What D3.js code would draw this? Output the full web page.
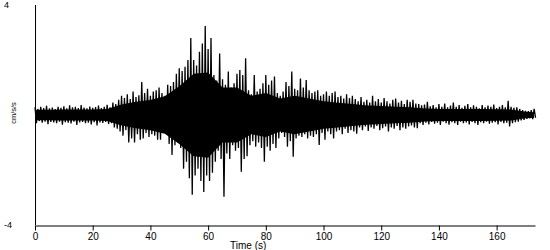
<!DOCTYPE html>
<html>
<head>
<meta charset="utf-8">
<script src="https://cdn.jsdelivr.net/npm/d3@7"></script>
<style>
  body { margin: 0; background: #fff; }
  text { font-family: "Liberation Sans", Arial, sans-serif; fill: #000; }
</style>
</head>
<body>
<svg id="chart" width="550" height="250"></svg>
<script>
// peaks and troughs of the record, one value per second (cm/s/s)
var upper = [
  0.28,0.22,0.30,0.25,0.33,0.24,0.27,0.22,0.30,0.26,0.32,0.24,0.35,0.28,0.30,0.25,0.36,0.27,0.24,0.31,
  0.26,0.29,0.34,0.25,0.30,0.37,0.28,0.45,0.40,0.55,0.70,0.62,0.75,0.58,0.85,0.65,0.72,1.20,0.80,0.95,
  0.70,0.85,0.90,1.00,0.80,0.70,1.10,1.05,1.20,1.50,1.70,1.60,1.75,2.00,2.80,2.00,1.80,2.30,2.60,3.24,
  2.40,2.80,1.45,1.25,2.24,1.30,1.10,1.58,1.00,1.15,1.50,1.64,1.45,2.06,0.90,0.75,1.45,0.85,0.95,1.15,
  1.45,1.10,1.25,1.40,0.80,0.70,0.85,1.20,1.05,1.58,0.95,0.90,1.33,1.00,1.27,0.90,0.80,0.85,0.90,0.70,
  0.75,0.85,0.70,0.80,0.85,0.65,0.70,0.60,0.75,0.62,0.70,0.58,0.50,0.65,0.48,0.55,0.45,0.70,0.50,0.58,
  0.45,0.62,0.50,0.42,0.55,0.60,0.45,0.52,0.40,0.55,0.48,0.55,0.42,0.40,0.35,0.38,0.48,0.32,0.36,0.28,
  0.40,0.30,0.42,0.28,0.34,0.45,0.30,0.36,0.26,0.33,0.40,0.28,0.35,0.30,0.24,0.36,0.28,0.34,0.30,0.38,
  0.25,0.30,0.36,0.28,0.52,0.30,0.26,0.28,0.22,0.18,0.15,0.14,0.18,0.22
];
var lower = [
  -0.30,-0.22,-0.28,-0.24,-0.33,-0.25,-0.27,-0.30,-0.24,-0.35,-0.26,-0.28,-0.31,-0.24,-0.36,-0.27,-0.25,-0.30,-0.28,-0.34,
  -0.26,-0.38,-0.27,-0.29,-0.25,-0.33,-0.30,-0.45,-0.50,-0.60,-0.75,-0.55,-1.00,-0.85,-1.00,-0.70,-0.90,-0.85,-0.65,-0.80,
  -0.70,-0.75,-0.90,-0.90,-0.65,-0.60,-1.05,-1.45,-1.10,-1.00,-1.20,-1.95,-1.70,-2.30,-2.90,-2.20,-1.95,-2.40,-2.80,-2.20,
  -2.40,-2.10,-1.70,-1.30,-1.60,-2.97,-1.40,-1.60,-1.10,-1.30,-1.20,-2.06,-1.60,-1.50,-1.10,-0.95,-1.15,-1.00,-1.20,-1.70,
  -1.15,-1.30,-1.05,-1.20,-0.85,-0.65,-0.80,-1.15,-0.95,-1.52,-0.85,-0.75,-0.80,-0.70,-0.85,-0.75,-0.80,-0.70,-1.09,-0.65,
  -0.90,-0.60,-0.70,-0.85,-0.60,-0.55,-0.70,-0.50,-0.65,-0.55,-0.60,-0.68,-0.45,-0.55,-0.42,-0.58,-0.45,-0.50,-0.40,-0.55,
  -0.48,-0.42,-0.60,-0.45,-0.50,-0.40,-0.55,-0.45,-0.50,-0.42,-0.38,-0.45,-0.48,-0.30,-0.36,-0.28,-0.34,-0.25,-0.32,-0.28,
  -0.36,-0.24,-0.30,-0.35,-0.26,-0.30,-0.36,-0.24,-0.30,-0.27,-0.34,-0.25,-0.30,-0.36,-0.26,-0.30,-0.24,-0.32,-0.28,-0.26,
  -0.34,-0.25,-0.30,-0.28,-0.42,-0.30,-0.26,-0.24,-0.20,-0.18,-0.14,-0.12,-0.15,-0.10
];
// half-width of the solid black band, read every 5 s
var coreTime = [0, 5, 10, 15, 20, 25, 30, 35, 40, 45, 50, 55, 60, 65, 70, 75, 80, 85, 90, 95,
  100, 105, 110, 115, 120, 125, 130, 135, 140, 145, 150, 155, 160, 165, 170, 173];
var coreAmp = [0.19, 0.19, 0.2, 0.2, 0.2, 0.22, 0.38, 0.48, 0.55, 0.68, 1.05, 1.5, 1.55, 1.0, 1.0, 0.7, 0.8, 0.6, 0.7, 0.6,
  0.5, 0.45, 0.4, 0.35, 0.33, 0.3, 0.28, 0.24, 0.22, 0.22, 0.22, 0.22, 0.21, 0.2, 0.12, 0.1];
var xTicks = [0, 20, 40, 60, 80, 100, 120, 140, 160];
var yLabels = [4, -4];

var svg = d3.select("#chart");
var x = d3.scaleLinear().domain([0, 173.3]).range([35, 535]);
var y = d3.scaleLinear().domain([-4, 4]).range([225, 5]);

// solid band
svg.append("path")
  .datum(coreTime.map(function (t, i) { return [t, coreAmp[i]]; }))
  .attr("fill", "#000")
  .attr("d", d3.area()
    .x(function (d) { return x(d[0]); })
    .y0(function (d) { return y(-d[1]); })
    .y1(function (d) { return y(d[1]); }));

// trace swings: each second's peak then its trough half a second later
var swings = [];
upper.forEach(function (u, i) {
  swings.push([i, u]);
  swings.push([i + 0.5, lower[i]]);
});

svg.append("path")
  .datum(swings)
  .attr("fill", "none")
  .attr("stroke", "#000")
  .attr("stroke-width", 1.3)
  .attr("d", d3.line()
    .x(function (d) { return x(d[0]); })
    .y(function (d) { return y(d[1]); }));

// y axis: plain line, labels only at the ends
svg.append("line")
  .attr("x1", 35.5).attr("x2", 35.5)
  .attr("y1", 5).attr("y2", 225)
  .attr("stroke", "#000");

svg.selectAll("text.ylab").data(yLabels).enter().append("text")
  .attr("class", "ylab")
  .attr("x", 4)
  .attr("y", function (d) { return y(d) + 3; })
  .style("font-size", "9px")
  .text(function (d) { return d; });

var xa = svg.append("g")
  .attr("transform", "translate(0,225.5)")
  .call(d3.axisBottom(x).tickValues(xTicks).tickSize(5).tickSizeOuter(0));
xa.select(".domain").attr("stroke", "#000");
xa.selectAll(".tick line").attr("stroke", "#000");
xa.selectAll(".tick text")
  .attr("y", 7)
  .style("font-family", '"Liberation Sans", Arial, sans-serif')
  .style("font-size", "10px");

svg.append("text")
  .attr("x", 230)
  .attr("y", 249)
  .style("font-size", "10px")
  .text("Time (s)");

svg.append("text")
  .attr("transform", "translate(16,113) rotate(-90)")
  .attr("text-anchor", "middle")
  .style("font-size", "7.5px")
  .text("cm/s/s");
</script>
</body>
</html>
